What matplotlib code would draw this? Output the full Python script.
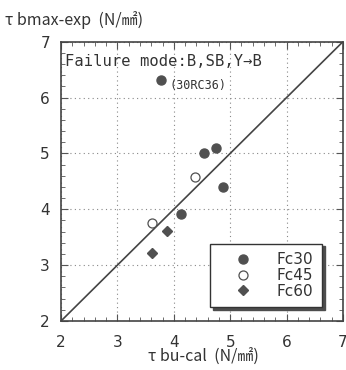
import matplotlib
matplotlib.use("Agg")
import matplotlib.pyplot as plt
from matplotlib.ticker import MultipleLocator

# data
fc30_x = [3.77, 4.53, 4.75, 4.88, 4.12]
fc30_y = [6.31, 5.00, 5.09, 4.40, 3.91]
fc45_x = [4.37, 3.61]
fc45_y = [4.58, 3.75]
fc60_x = [3.88, 3.62]
fc60_y = [3.62, 3.21]
labels = ["Fc30", "Fc45", "Fc60"]
line_xy = [2, 7]

TXT = "#333333"
PT = "#505050"
CJK = ["Noto Sans CJK JP", "DejaVu Sans"]

fig = plt.figure(figsize=(3.46, 3.70), dpi=100)
ax = fig.add_axes([0.1763, 0.1324, 0.815, 0.755])

ax.plot(line_xy, line_xy, color="#444444", lw=1.2, zorder=2)
ax.plot(fc30_x, fc30_y, "o", ms=6.5, color=PT, mec=PT, ls="none", label=labels[0], zorder=3)
ax.plot(fc45_x, fc45_y, "o", ms=6.5, mfc="white", mec=PT, mew=0.9, ls="none", label=labels[1], zorder=3)
ax.plot(fc60_x, fc60_y, "D", ms=5.5, color=PT, mec=PT, ls="none", label=labels[2], zorder=3)

ax.set_xlim(2, 7)
ax.set_ylim(2, 7)
ax.xaxis.set_major_locator(MultipleLocator(1))
ax.yaxis.set_major_locator(MultipleLocator(1))
ax.xaxis.set_minor_locator(MultipleLocator(0.2))
ax.yaxis.set_minor_locator(MultipleLocator(0.2))
ax.tick_params(which="both", direction="in", top=True, right=True, colors="#555555")
ax.tick_params(which="major", length=5, width=0.8, labelsize=11, labelcolor=TXT)
ax.tick_params(which="minor", length=3, width=0.6)
ax.tick_params(axis="x", which="major", pad=10)
ax.tick_params(axis="y", which="major", pad=8)
ax.grid(True, which="major", ls=(0, (1, 3)), color="#888888", lw=0.8)
for s in ax.spines.values():
    s.set_color("#444444")
    s.set_linewidth(1.2)

ax.text(0.014, 0.93, "Failure mode:B,SB,Y→B", transform=ax.transAxes,
        family="DejaVu Sans Mono", fontsize=11.2, color=TXT, va="center", ha="left")
ax.text(3.93, 6.22, "(30RC36)", family="DejaVu Sans Mono", fontsize=8.5,
        color=TXT, va="center", ha="left")

fig.text(0.015, 0.945, "τ bmax-exp  (N/㎟)", family=CJK, fontsize=11.5, color=TXT,
         ha="left", va="center")
fig.text(0.588, 0.035, "τ bu-cal  (N/㎟)", family=CJK, fontsize=11.5, color=TXT,
         ha="center", va="center")

leg = ax.legend(loc="lower right", bbox_to_anchor=(0.925, 0.05), borderaxespad=0,
                fontsize=11, labelspacing=0.05, borderpad=0.55, handlelength=3.2,
                handletextpad=0.6, fancybox=False, framealpha=1, edgecolor="#333333",
                shadow={"color": "0.3", "alpha": 1})
leg.get_frame().set_linewidth(1.0)
for t in leg.get_texts():
    t.set_color(TXT)

fig.savefig("out.png", dpi=100)
